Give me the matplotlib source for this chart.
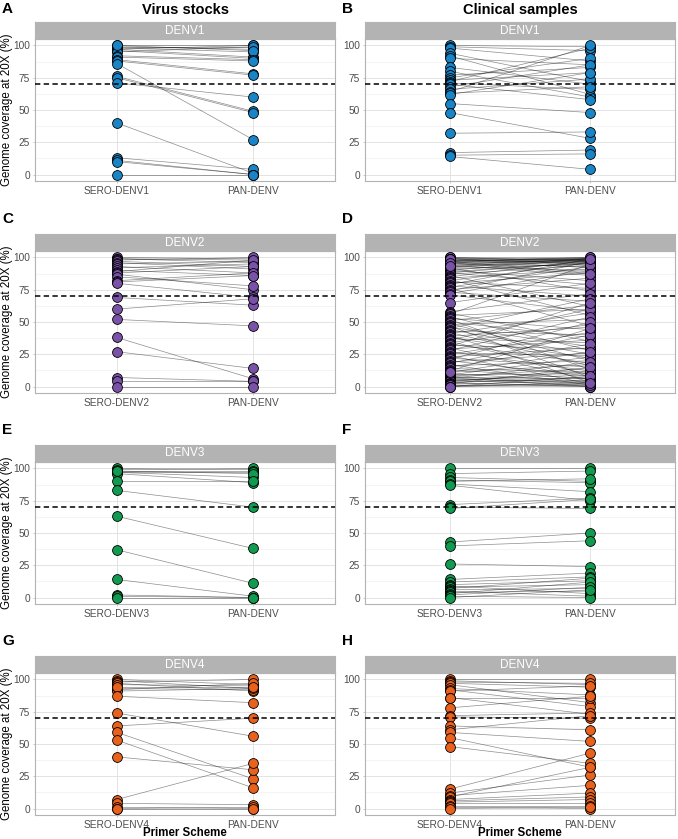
import matplotlib
matplotlib.use('Agg')
import matplotlib.pyplot as plt

plt.rcParams['font.family'] = ['Liberation Sans', 'DejaVu Sans']

# --- data: genome coverage at 20X (%) per sample, serotype-specific vs pan-DENV scheme ---
# A: virus stocks DENV1
a_sero = [100, 99, 99, 98, 97, 97, 96, 95, 100, 92, 91, 89, 88, 86, 76, 75, 71, 40, 13, 11, 10, 0]
a_pan = [100, 99, 97, 95, 100, 91, 90, 99, 96, 89, 88, 78, 77, 27, 49, 48, 60, 1, 4, 0, 0, 0]
# B: clinical samples DENV1
b_sero = [100, 99, 98, 94, 92, 90, 83, 80, 77, 75, 73, 72, 71, 70, 68, 66, 64, 63, 62, 55, 48, 32, 17, 15, 14]
b_pan = [99, 96, 88, 72, 62, 85, 70, 60, 83, 90, 79, 98, 66, 58, 85, 74, 100, 68, 79, 48, 28, 33, 19, 16, 4]
# C: virus stocks DENV2
c_sero = [100, 99, 99, 98, 97, 96, 95, 93, 92, 90, 89, 88, 87, 85, 82, 81, 80, 69, 60, 52, 38, 27, 7, 4, 0]
c_pan = [99, 98, 96, 100, 93, 91, 97, 88, 95, 86, 98, 93, 75, 78, 88, 86, 69, 63, 68, 47, 6, 14, 4, 4, 0]
# D: clinical samples DENV2
d_sero = [100, 100, 99, 99, 99, 98, 98, 98, 97, 97, 97, 96, 96, 95, 95, 94, 94, 93, 93, 92,
          92, 91, 90, 90, 89, 88, 88, 87, 86, 85, 84, 83, 82, 81, 80, 79, 78, 77, 76, 75,
          74, 73, 72, 71, 65, 58, 57, 56, 55, 54, 53, 52, 51, 50, 49, 48, 47, 46, 45, 44,
          43, 42, 41, 40, 39, 38, 37, 36, 35, 34, 33, 32, 31, 30, 29, 28, 27, 26, 25, 24,
          23, 22, 21, 20, 19, 18, 17, 16, 15, 14, 13, 12, 11, 10, 9, 9, 8, 8, 7, 7,
          6, 6, 5, 5, 4, 4, 3, 3, 2, 2, 1, 1, 0, 0, 0, 97, 99, 96, 93, 11]
d_pan = [99, 97, 100, 98, 95, 99, 96, 92, 99, 98, 88, 97, 99, 93, 98, 99, 86, 97, 90, 98,
         74, 95, 99, 82, 96, 79, 97, 94, 62, 98, 91, 55, 96, 76, 88, 99, 70, 93, 47, 84,
         97, 66, 90, 58, 80, 72, 35, 95, 60, 28, 44, 13, 63, 38, 20, 52, 7, 31, 68, 25,
         40, 16, 57, 3, 46, 22, 34, 60, 9, 48, 18, 29, 65, 5, 36, 54, 12, 24, 42, 2,
         30, 15, 50, 8, 26, 40, 1, 20, 33, 11, 6, 45, 17, 4, 23, 10, 2, 14, 0, 6,
         19, 3, 9, 1, 12, 5, 0, 7, 4, 15, 2, 0, 1, 8, 3, 100, 94, 87, 99, 27]
# E: virus stocks DENV3
e_sero = [100, 99, 98, 97, 97, 96, 98, 90, 83, 63, 37, 14, 2, 1, 0]
e_pan = [99, 100, 98, 93, 97, 89, 96, 90, 70, 38, 11, 1, 0, 0, 0]
# F: clinical samples DENV3
f_sero = [100, 96, 93, 91, 90, 88, 87, 72, 70, 69, 43, 40, 26, 14, 12, 10, 9, 8, 7, 6, 5, 4, 3, 2, 1, 0]
f_pan = [100, 98, 90, 89, 92, 82, 75, 77, 69, 76, 50, 44, 24, 19, 16, 13, 3, 10, 15, 7, 1, 5, 12, 8, 0, 6]
# G: virus stocks DENV4
g_sero = [100, 99, 98, 97, 96, 93, 92, 91, 94, 87, 74, 64, 59, 53, 40, 7, 4, 1, 0, 0]
g_pan = [96, 93, 100, 91, 95, 92, 97, 93, 94, 82, 56, 70, 23, 16, 30, 35, 3, 0, 1, 0]
# H: clinical samples DENV4
h_sero = [100, 99, 98, 97, 96, 93, 92, 91, 86, 86, 78, 72, 71, 64, 61, 59, 55, 48, 15, 12, 10, 9, 7, 6, 5, 4, 2, 1, 0]
h_pan = [100, 96, 97, 94, 82, 88, 79, 95, 86, 73, 87, 74, 70, 61, 72, 52, 32, 35, 43, 26, 18, 32, 12, 9, 7, 4, 2, 0, 1]

serotypes = ['DENV1', 'DENV2', 'DENV3', 'DENV4']
fill_colors = ['#1a85c6', '#7a53a8', '#129a50', '#e8621e']
column_titles = ['Virus stocks', 'Clinical samples']
panel_letters = [['A', 'B'], ['C', 'D'], ['E', 'F'], ['G', 'H']]
panel_data = [[(a_sero, a_pan), (b_sero, b_pan)],
              [(c_sero, c_pan), (d_sero, d_pan)],
              [(e_sero, e_pan), (f_sero, f_pan)],
              [(g_sero, g_pan), (h_sero, h_pan)]]

W, H = 678, 839
fig = plt.figure(figsize=(W / 100, H / 100), dpi=100)

col_x = [(35, 300), (365, 310)]       # left edge, width in px
row_top = [39, 251, 462, 673]         # top of plotting panel in px
panel_h = 142
strip_h = 17
letter_y = [9, 219, 430, 641]


def px_box(x, y_top, w, h):
    return [x / W, 1 - (y_top + h) / H, w / W, h / H]


for r in range(4):
    for c in range(2):
        x0, w = col_x[c]
        ax = fig.add_axes(px_box(x0, row_top[r], w, panel_h))
        sero, pan = panel_data[r][c]
        for s, p in zip(sero, pan):
            ax.plot([1, 2], [s, p], color='black', lw=0.5, alpha=0.45, zorder=2)
        ax.scatter([1] * len(sero), sero, s=50, c=fill_colors[r], edgecolors='black',
                   linewidths=0.6, zorder=3, clip_on=False)
        ax.scatter([2] * len(pan), pan, s=50, c=fill_colors[r], edgecolors='black',
                   linewidths=0.6, zorder=3, clip_on=False)
        ax.axhline(70, color='black', lw=1.1, linestyle=(0, (3.5, 2.2)), zorder=4)

        ax.set_xlim(0.4, 2.6)
        ax.set_ylim(-5, 105)
        ax.set_xticks([1, 2])
        ax.set_xticklabels(['SERO-' + serotypes[r], 'PAN-DENV'])
        ax.set_yticks([0, 25, 50, 75, 100])
        ax.set_yticks([12.5, 37.5, 62.5, 87.5], minor=True)
        ax.tick_params(axis='both', which='major', labelsize=7.3, labelcolor='#4d4d4d',
                       color='#b3b3b3', length=1.5, width=0.5, pad=2)
        ax.tick_params(axis='y', which='minor', length=0)
        ax.grid(True, which='major', color='#dedede', lw=0.6, zorder=0)
        ax.grid(True, which='minor', axis='y', color='#ececec', lw=0.4, zorder=0)
        ax.set_axisbelow(True)
        for sp in ax.spines.values():
            sp.set_color('#b3b3b3')
            sp.set_linewidth(0.8)

        # facet strip
        sax = fig.add_axes(px_box(x0, row_top[r] - strip_h, w, strip_h))
        sax.set_facecolor('#b3b3b3')
        sax.set_xticks([])
        sax.set_yticks([])
        for sp in sax.spines.values():
            sp.set_color('#b3b3b3')
        sax.text(0.5, 0.5, serotypes[r], color='white', fontsize=8.5,
                 ha='center', va='center', transform=sax.transAxes)

        if c == 0:
            fig.text(7.5 / W, 1 - (row_top[r] + panel_h / 2) / H, 'Genome coverage at 20X (%)',
                     rotation=90, ha='center', va='center', fontsize=8.3)
        if r == 3:
            fig.text((x0 + w / 2) / W, 1 - 832.5 / H, 'Primer Scheme', ha='center',
                     va='center', fontsize=8.3, fontweight='bold')

        lx = 2 if c == 0 else 342
        fig.text(lx / W, 1 - letter_y[r] / H, panel_letters[r][c], ha='left', va='center',
                 fontsize=11, fontweight='bold')

for c in range(2):
    x0, w = col_x[c]
    fig.text((x0 + w / 2) / W, 1 - 10 / H, column_titles[c], ha='center', va='center',
             fontsize=10.5, fontweight='bold')

fig.savefig('out.png', dpi=100)
